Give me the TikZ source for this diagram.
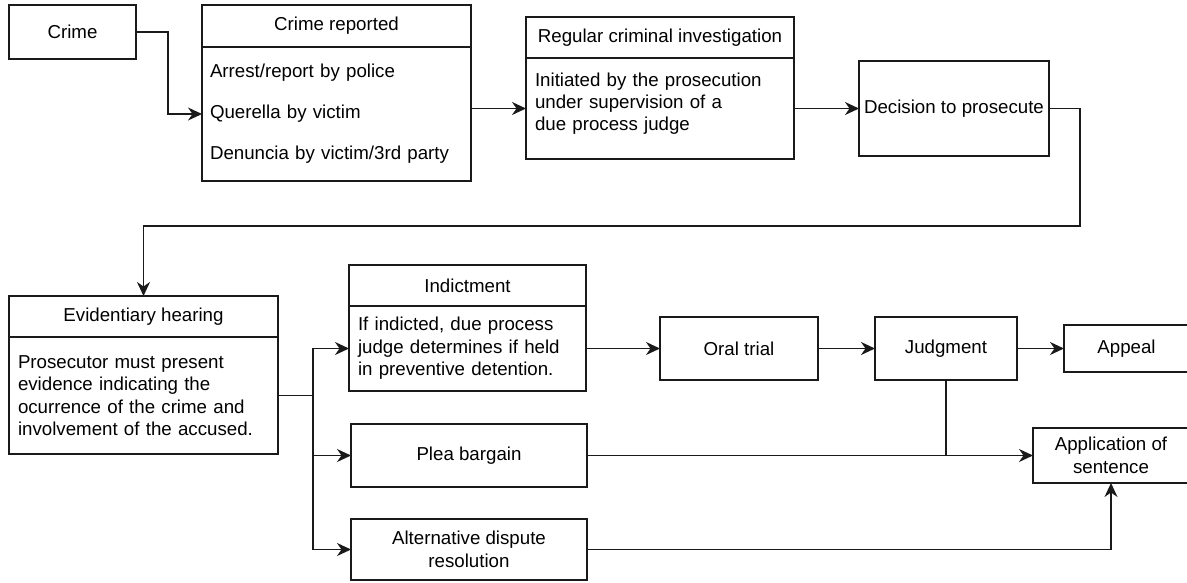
\documentclass[tikz,border=0pt]{standalone}
\usepackage{fontspec}
\setmainfont{Liberation Sans}
\usetikzlibrary{positioning,arrows.meta}
\definecolor{EdgeBlack}{HTML}{1A1A1A}
\newcommand{\dfont}{\fontsize{18.7}{22.4}\selectfont}

\begin{document}
\begin{tikzpicture}[x=1pt,y=-1pt]
    \tikzstyle{box}=[draw=EdgeBlack,line width=1.4pt,align=center,inner sep=0pt,outer sep=0pt,font=\dfont]
    \tikzstyle{flow}=[-{Stealth[length=14pt,width=13pt,inset=4.5pt]},line width=1.4pt,draw=EdgeBlack]
    \useasboundingbox (0,0) rectangle (1187,582);
    % top row
    \node[box,minimum width=127,minimum height=54] (crime)    at (72.5,32)   {Crime};
    \node[box,minimum width=269,minimum height=42] (rephead)  at (336.5,26)  {Crime reported};
    \node[box,minimum width=269,minimum height=134,below=0pt of rephead,inner xsep=8pt,text width=253pt,align=left] (repbody)
        {Arrest/report by police\\[18.6pt]Querella by victim\\[18.6pt]Denuncia by victim/3rd party};
    \node[box,minimum width=268,minimum height=41] (reghead)  at (660,37.5)  {Regular criminal investigation};
    \node[box,minimum width=268,minimum height=101,below=0pt of reghead,inner xsep=9pt,text width=250pt,align=left] (regbody)
        {Initiated by the prosecution\\under supervision of a\\due process judge\\[-9pt]\mbox{}};
    \node[box,minimum width=190,minimum height=95] (decision) at (954,108.5) {Decision to prosecute};
    % bottom part
    \node[box,minimum width=269,minimum height=41] (evidhead) at (143.5,316.5) {Evidentiary hearing};
    \node[box,minimum width=269,minimum height=117,below=0pt of evidhead,inner xsep=9pt,text width=251pt,align=left] (evidbody)
        {Prosecutor must present\\evidence indicating the\\ocurrence of the crime and\\involvement of the accused.};
    \node[box,minimum width=237,minimum height=41] (indhead)  at (467.5,285.5) {Indictment};
    \node[box,minimum width=237,minimum height=85,below=0pt of indhead,inner xsep=9pt,text width=219pt,align=left] (indbody)
        {If indicted, due process\\judge determines if held\\in preventive detention.};
    \node[box,minimum width=236,minimum height=63] (plea)     at (469,455.5)  {Plea bargain};
    \node[box,minimum width=236,minimum height=61] (alt)      at (469,549.5)  {Alternative dispute\\resolution};
    \node[box,minimum width=158,minimum height=63] (oral)     at (739,348.5)  {Oral trial};
    \node[box,minimum width=142,minimum height=63] (judg)     at (946,348.5)  {Judgment};
    \node[box,minimum width=125,minimum height=47] (appeal)   at (1126.5,348.5) {Appeal};
    \node[box,minimum width=156,minimum height=55] (appl)     at (1111,455.5) {Application of\\sentence};
    \coordinate (back)  at (1080,226);
    \coordinate (split) at (313,395.5);
    \draw[flow] (crime.east) -- ++(32,0) |- (repbody.west);
    \draw[flow] (repbody.east |- regbody.west) -- (regbody.west);
    \draw[flow] (regbody.east) -- (decision.west);
    \draw[flow] (decision.east) -| (back) -| (evidhead.north);
    \draw[line width=1.4pt,draw=EdgeBlack] (evidbody.east) -- (split);
    \draw[flow] (split) |- (indbody.west);
    \draw[flow] (split) |- (plea.west);
    \draw[flow] (split) |- (alt.west);
    \draw[flow] (indbody.east) -- (oral.west);
    \draw[flow] (oral.east) -- (judg.west);
    \draw[flow] (judg.east) -- (appeal.west);
    \draw[flow] (plea.east) -- (appl.west);
    \draw[line width=1.4pt,draw=EdgeBlack] (judg.south) -- (judg.south |- appl.west);
    \draw[flow] (alt.east) -| (appl.south);
\end{tikzpicture}
\end{document}
